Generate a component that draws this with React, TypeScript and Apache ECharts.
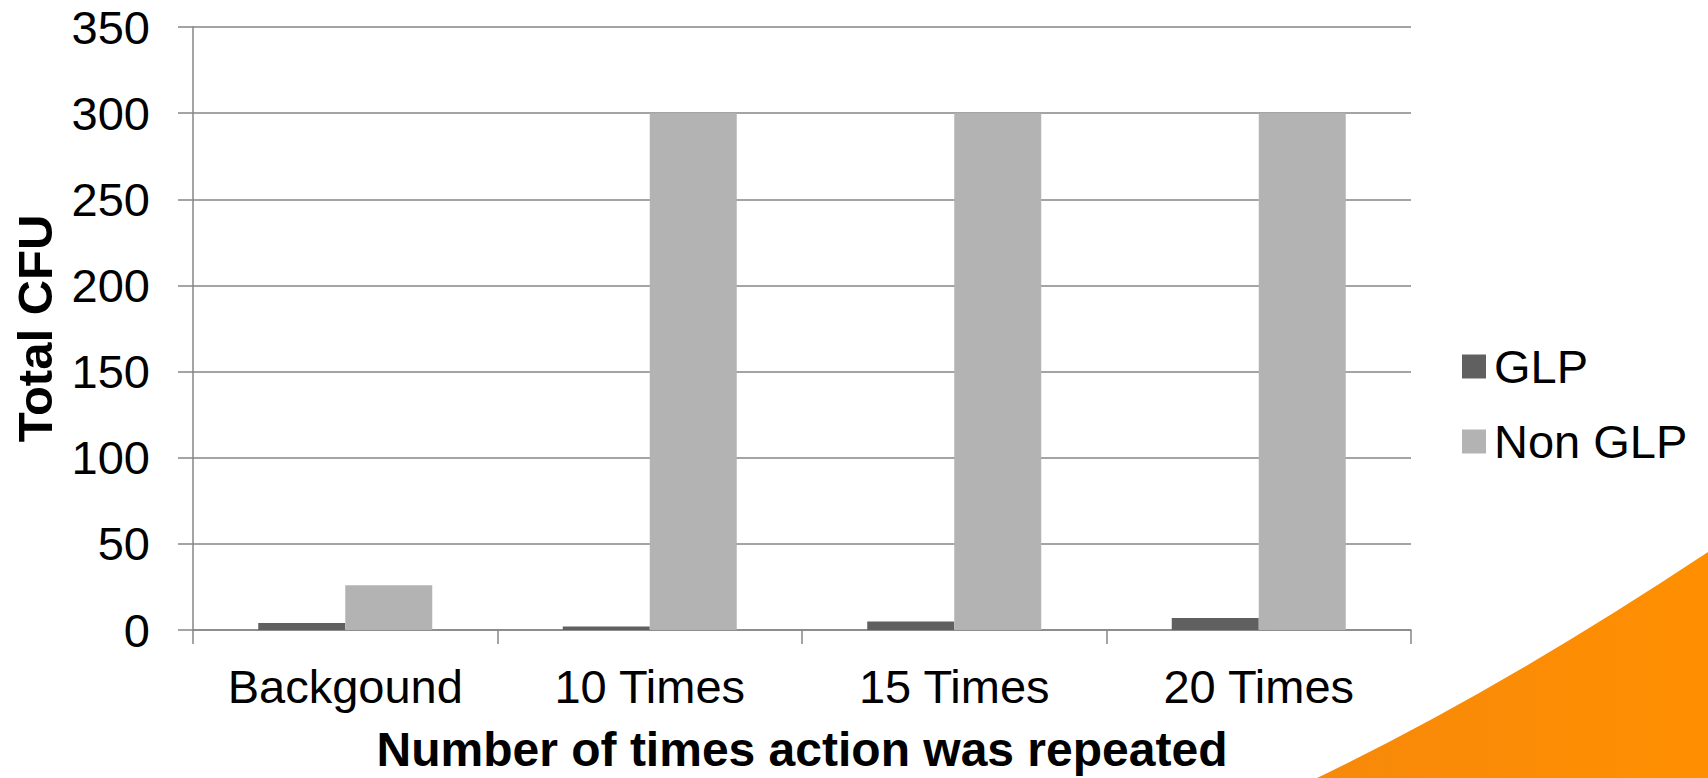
import React, { useEffect, useRef } from "react";
import * as echarts from "echarts";

const categories = ["Backgound", "10 Times", "15 Times", "20 Times"];
const glpValues = [4, 2, 5, 7];
const nonGlpValues = [26, 300, 300, 300];
const seriesNames = ["GLP", "Non GLP"];
const xAxisTitle = "Number of times action was repeated";
const yAxisTitle = "Total CFU";

const FONT = '"Liberation Sans", Arial, sans-serif';
const LINE = "#868686";

// Decorative orange swoosh in the lower right corner
echarts.graphic.registerShape(
  "swoosh",
  echarts.graphic.extendPath("M1317 778 Q1500 690 1708 552 L1708 778 Z", {})
);

export default function App() {
  const ref = useRef<HTMLDivElement>(null);

  useEffect(() => {
    document.body.style.margin = "0";
    const chart = echarts.init(ref.current!, null, { renderer: "svg" });
    chart.setOption({
      animation: false,
      backgroundColor: "#ffffff",
      textStyle: { fontFamily: FONT, color: "#000" },
      grid: { left: 193, right: 297, top: 27, bottom: 147, containLabel: false },
      legend: {
        orient: "vertical",
        left: 1457,
        top: 338,
        icon: "rect",
        itemWidth: 24,
        itemHeight: 24,
        itemGap: 28,
        data: seriesNames,
        textStyle: {
          fontFamily: FONT,
          fontSize: 47,
          color: "#000",
          padding: [0, 0, 0, 3],
        },
      },
      xAxis: {
        type: "category",
        data: categories,
        name: xAxisTitle,
        nameLocation: "middle",
        nameGap: 95,
        nameTextStyle: { fontFamily: FONT, fontSize: 48, fontWeight: "bold", color: "#000" },
        axisLine: { show: true, lineStyle: { color: LINE, width: 1.5 } },
        axisTick: {
          show: true,
          length: 14,
          interval: 0,
          alignWithLabel: false,
          lineStyle: { color: LINE, width: 1.5 },
        },
        axisLabel: {
          fontFamily: FONT,
          fontSize: 47,
          color: "#000",
          margin: 33,
          interval: 0,
          hideOverlap: false,
        },
      },
      yAxis: {
        type: "value",
        min: 0,
        max: 350,
        interval: 50,
        name: yAxisTitle,
        nameLocation: "middle",
        nameGap: 134,
        nameTextStyle: { fontFamily: FONT, fontSize: 49, fontWeight: "bold", color: "#000" },
        axisLine: { show: true, lineStyle: { color: LINE, width: 1.5 } },
        axisTick: { show: true, length: 15, lineStyle: { color: LINE, width: 1.5 } },
        splitLine: { show: true, lineStyle: { color: LINE, width: 1.5 } },
        axisLabel: { fontFamily: FONT, fontSize: 47, color: "#000", margin: 43 },
      },
      series: [
        {
          name: seriesNames[0],
          type: "bar",
          data: glpValues,
          barWidth: 87,
          barGap: "0%",
          itemStyle: { color: "#606060" },
        },
        {
          name: seriesNames[1],
          type: "bar",
          data: nonGlpValues,
          barWidth: 87,
          barGap: "0%",
          itemStyle: { color: "#b3b3b3" },
        },
      ],
      graphic: [
        {
          type: "swoosh",
          silent: true,
          z: -1,
          x: 0,
          y: 0,
          scaleX: 1,
          scaleY: 1,
          style: {
            fill: new echarts.graphic.LinearGradient(0, 0, 1, 0, [
              { offset: 0, color: "#f7890b" },
              { offset: 1, color: "#ff8f00" },
            ]),
          },
        },
      ],
    });
    return () => chart.dispose();
  }, []);

  return (
    <div
      ref={ref}
      style={{ position: "fixed", left: 0, top: 0, width: 1708, height: 778 }}
    />
  );
}
